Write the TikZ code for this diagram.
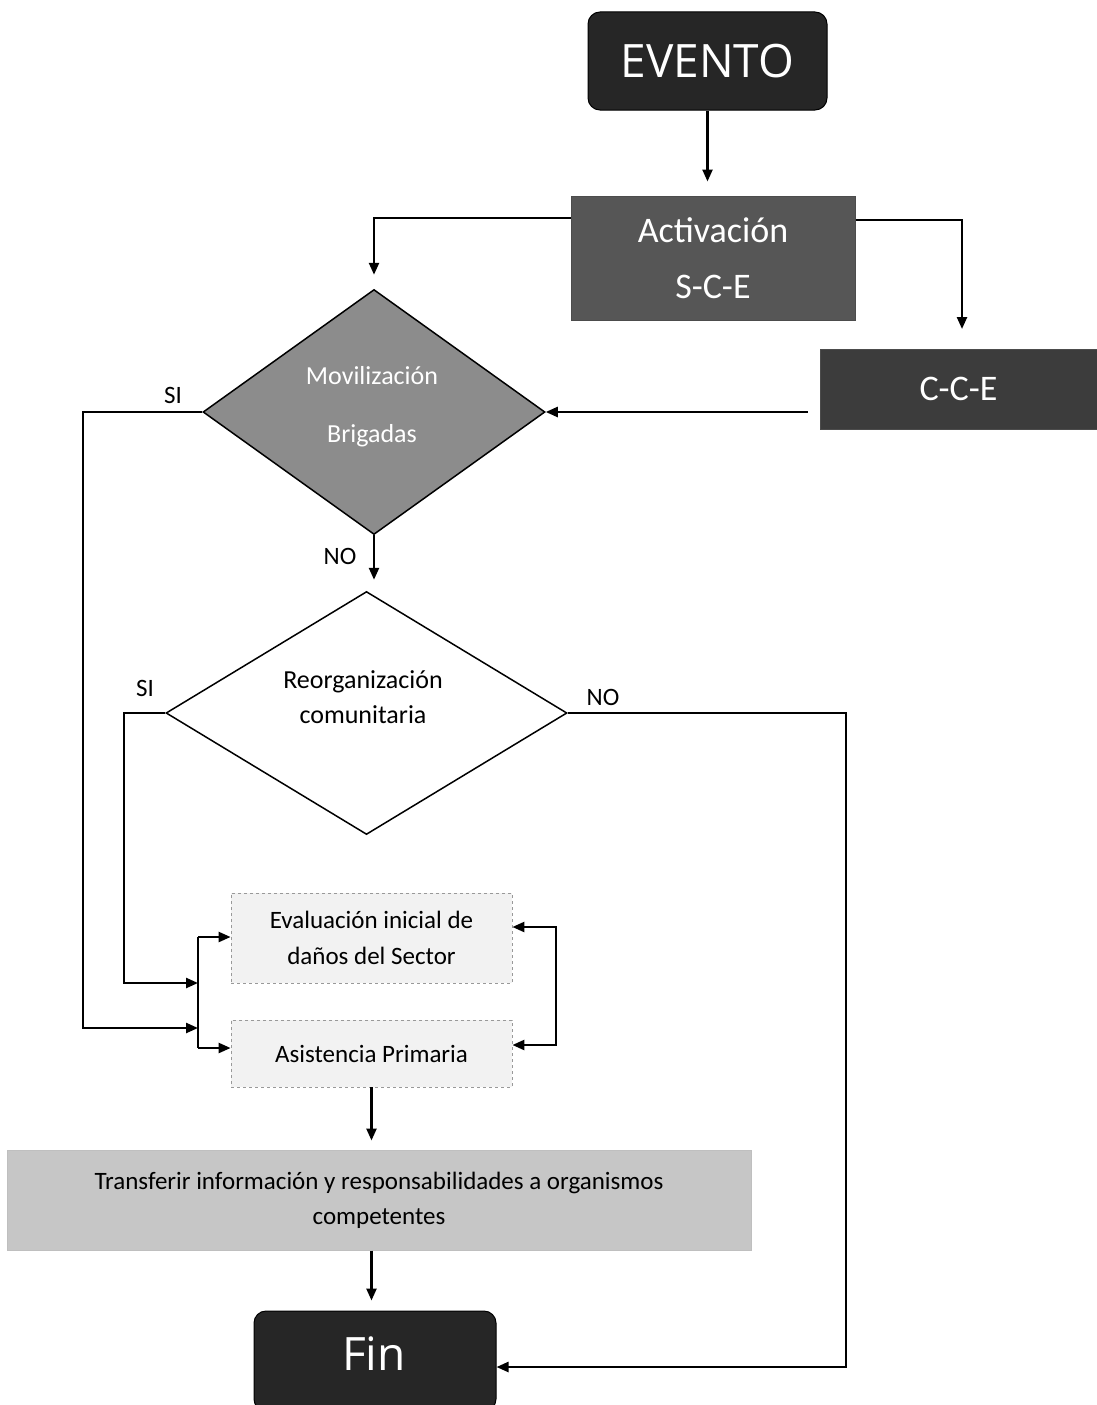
\documentclass[tikz,border=0pt]{standalone}
\usepackage{fontspec}
\setmainfont{Carlito}
\newfontfamily\bigfont{Open Sans}
\usetikzlibrary{shapes.geometric,arrows.meta}
\definecolor{darkbox}{HTML}{262626}
\definecolor{midbox}{HTML}{565656}
\definecolor{ccebox}{HTML}{3C3C3C}
\definecolor{movbox}{HTML}{8C8C8C}
\definecolor{lightbox}{HTML}{F2F2F2}
\definecolor{transbox}{HTML}{C6C6C6}
\tikzset{
  conn/.style={line width=2.4pt,draw=black},
  arr/.style={conn,-{Triangle[length=12pt,width=10pt]}},
  darr/.style={conn,{Triangle[length=12pt,width=10pt]}-{Triangle[length=12pt,width=10pt]}},
  termbox/.style={rounded corners=12pt,fill=darkbox,draw=black,line width=1pt,text=white,font=\bigfont\fontsize{46}{50}\selectfont,inner sep=0pt},
  procbox/.style={draw=black!70,line width=1pt,inner sep=0pt,align=center},
  lightproc/.style={draw=black!40,dashed,line width=0.8pt,fill=lightbox,inner sep=0pt,align=center,font=\fontsize{25}{36}\selectfont},
  decision/.style={diamond,draw=black,line width=1.5pt,inner sep=0pt,aspect=1.4},
  lbl/.style={font=\fontsize{25}{26}\selectfont,text=black}
}
\begin{document}
\begin{tikzpicture}[x=1pt,y=-1pt]
\useasboundingbox[fill=white] (0,0) rectangle (1097,1405);
% nodes
\node[termbox,minimum width=239pt,minimum height=98pt] (evento) at (707.5,61) {EVENTO};
\node[procbox,fill=midbox,text=white,minimum width=284pt,minimum height=124pt,font=\fontsize{36}{56}\selectfont] (act) at (713,258) {Activación\\S-C-E};
\node[procbox,fill=ccebox,text=white,minimum width=277pt,minimum height=80pt,font=\fontsize{36}{40}\selectfont] (cce) at (958.5,389) {C-C-E};
\node[decision,fill=movbox,minimum width=342pt,minimum height=245pt] (mov) at (374,412) {};
\node[text=white,align=center,font=\fontsize{26}{58}\selectfont] (movtext) at (372,407) {Movilización\\Brigadas};
\node[decision,fill=white,minimum width=401pt,minimum height=243pt] (reo) at (366.5,713) {};
\node[align=center,font=\fontsize{26}{35}\selectfont] (reotext) at (363,697) {Reorganización\\comunitaria};
\node[lightproc,minimum width=281pt,minimum height=90pt] (eval) at (371.5,938) {Evaluación inicial de\\daños del Sector};
\node[lightproc,minimum width=281pt,minimum height=67pt] (asis) at (371.5,1053.5) {Asistencia Primaria};
\node[procbox,draw=black!25,fill=transbox,minimum width=744pt,minimum height=100pt,font=\fontsize{25}{35}\selectfont] (trans) at (379,1200) {Transferir información y responsabilidades a organismos\\competentes};
\node[termbox,minimum width=242pt,minimum height=100pt] (fin) at (375,1361) {};
\node[text=white,font=\bigfont\fontsize{46}{50}\selectfont] (fintext) at (374,1354) {Fin};
% labels
\node[lbl] (si1) at (173,395) {SI};
\node[lbl] (no1) at (340,556) {NO};
\node[lbl] (si2) at (145,688) {SI};
\node[lbl] (no2) at (603,697) {NO};
% coordinates
\coordinate (b1) at (198,937);
\coordinate (b2) at (198,1048);
\coordinate (m1) at (198,1028);
\coordinate (m2) at (198,983);
\coordinate (r1) at (556,927);
\coordinate (r2) at (556,1045);
\coordinate (n1) at (846,1367);
% connectors
\draw[arr,shorten >=14pt] (evento.south) -- (evento.south |- act.north);
\draw[arr,shorten >=14pt] (act.west |- 0,218) -| (mov.north);
\draw[arr,shorten >=20pt] (act.east |- 0,220) -| (962,349) coordinate (ccetop);
\draw[arr,shorten <=12pt] (cce.west |- mov.east) -- (mov.east);
\draw[arr,shorten >=11pt] (mov.south) -- (mov.south |- reo.north);
\draw[arr] (mov.west) -- ++(-119,0) |- (m1);
\draw[arr] (reo.west) -- ++(-41,0) |- (m2);
\draw[conn] (b1) -- (b2);
\draw[arr] (b1) -- (eval.west |- b1);
\draw[arr] (b2) -- (asis.west |- b2);
\draw[darr] (eval.east |- r1) -- (r1) -- (r2) -- (asis.east |- r2);
\draw[arr,shorten >=9pt] (asis.south) -- (asis.south |- trans.north);
\draw[arr,shorten >=10pt] (trans.south -| asis.south) -- (asis.south |- fin.north);
\draw[arr] (reo.east) -| (n1) -- (fin.east |- n1);
\end{tikzpicture}
\end{document}
